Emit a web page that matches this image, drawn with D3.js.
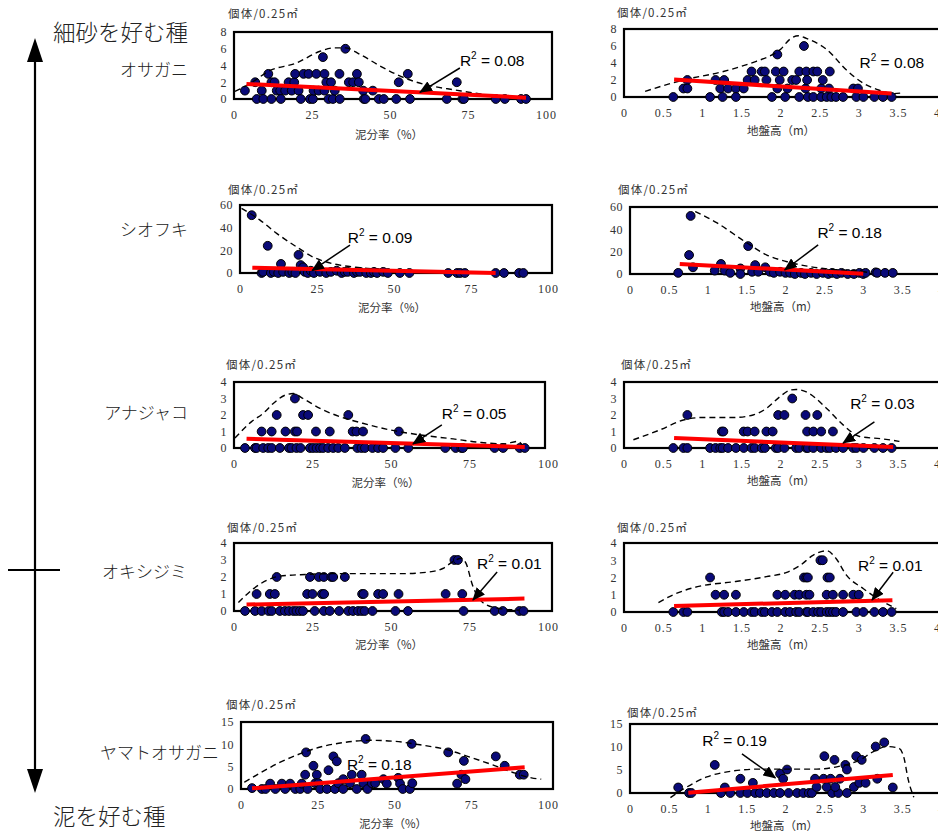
<!DOCTYPE html>
<html><head><meta charset="utf-8">
<script src="https://cdn.jsdelivr.net/npm/d3@7"></script>
<style>body{margin:0;background:#fff;} svg{display:block}</style>
</head><body>
<svg id="chart" width="938" height="834"></svg>
<script>
// ---------------- DATA ----------------
const species = ["オサガニ","シオフキ","アナジャコ","オキシジミ","ヤマトオサガニ"];
const r2Mud  = ["0.08","0.09","0.05","0.01","0.18"];
const r2Elev = ["0.08","0.18","0.03","0.01","0.19"];
const mudTicks = [0,25,50,75,100];
const elevTicks = [0,0.5,1,1.5,2,2.5,3,3.5,4];
const yTicksList = [[0,2,4,6,8],[0,20,40,60],[0,1,2,3,4],[0,1,2,3,4],[0,5,10,15]];

// オサガニ
const osaganiMud = [[3.5,1],[6.8,2],[7.3,0],[8.9,1],[9.4,0],[11,3],[12,0],[12,2],[13,2],[13.7,1],[14.8,1],[15,0],[16.4,1],[17.5,2],[18.5,1],[19.3,2],[19.6,3],[20.7,1],[21.4,0],[22.3,3],[23.9,3],[24.4,0],[25.3,0],[25.5,1],[26.4,3],[27.1,1],[28.5,5],[29,3],[29,1],[29.6,2],[30.3,0],[31.1,2],[31.7,0],[32.3,1],[33.8,3],[33.9,0],[35.7,6],[36.8,2],[38.2,2],[39.4,3],[40,2],[41.4,1],[41.6,0],[42.1,0],[44.5,1],[46.4,0],[48,0],[52,0],[52.8,2],[55.7,3],[56.4,0],[68.2,0],[71.4,2],[73.2,0],[73.7,0],[83.9,0],[86.8,0],[92,0],[93.6,0]];
const osaganiElev = [[0.63,0],[0.76,1],[0.81,2],[0.81,1],[1.1,0],[1.17,2],[1.23,1],[1.26,0],[1.28,2],[1.33,1],[1.43,1],[1.43,0],[1.53,1],[1.58,2],[1.63,3],[1.67,2],[1.76,3],[1.8,3],[1.82,2],[1.89,0],[1.94,3],[1.96,5],[1.96,1],[1.99,2],[2.04,3],[2.06,0],[2.09,1],[2.15,2],[2.2,2],[2.24,3],[2.24,0],[2.3,6],[2.32,1],[2.33,3],[2.34,2],[2.35,0],[2.42,3],[2.42,0],[2.47,3],[2.52,1],[2.54,2],[2.52,0],[2.59,0],[2.62,1],[2.63,3],[2.65,0],[2.71,0],[2.8,0],[2.93,1],[2.99,1],[2.97,0],[3.06,0],[3.2,0],[3.31,0],[3.42,0]];
const osaganiMudEnv = [[0.3,0.9],[6.2,2.1],[11,3.3],[20,4.3],[27.6,5.7],[32,6.1],[35.7,6.1],[40.5,5.3],[47,3.9],[52.3,2.9],[57.7,2.1],[64,1.5],[70.5,1.1],[79,0.6],[86.6,0.3],[93.6,0.15]];
const osaganiElevEnv = [[0.27,0.67],[0.76,2.0],[1.27,3.0],[1.69,4.2],[1.86,4.8],[2.0,5.6],[2.12,6.8],[2.23,7.2],[2.33,6.9],[2.59,5.6],[2.84,3.2],[3.06,1.6],[3.23,0.9],[3.44,0.4],[3.57,0.5]];
const osaganiMudFit = [[4,1.8],[93.6,0.16]];
const osaganiElevFit = [[0.64,2.05],[3.42,0.4]];

// シオフキ
const shiofukiMud = [[3.8,51],[7,0],[7.5,1],[9,24],[10,0],[11,1],[12.4,0],[13.3,8],[14,1],[16,0],[17,1],[18,0],[19,16],[19.7,7],[20.5,5],[21,1],[22,0],[23,2],[24,0],[26,1],[28,0],[29.5,1],[31.4,2],[33,0],[34,1],[35,1],[37,0],[38,1],[39,1],[41,0],[42.5,0],[43.5,1],[44.5,0],[46.5,1],[48,0],[51.9,0],[55,0],[67.6,0],[70.5,0],[71.5,0],[73,0],[83,0],[85.7,0],[90.6,0],[92,0]];
const shiofukiElev = [[0.62,1],[0.76,17],[0.78,52],[0.81,6],[1.09,3],[1.17,9],[1.22,3],[1.29,1],[1.42,5],[1.42,0],[1.52,25],[1.57,2],[1.61,8],[1.65,2],[1.74,6],[1.8,2],[1.85,1],[1.93,2],[2.0,1],[2.06,1],[2.12,0],[2.2,1],[2.25,0],[2.33,1],[2.4,0],[2.48,1],[2.55,0],[2.6,1],[2.66,0],[2.72,1],[2.8,0],[2.88,0],[2.95,1],[3.0,0],[3.03,1],[3.16,1.5],[3.18,1],[3.28,1],[3.38,1]];
const shiofukiMudEnv = [[0.5,57],[6.5,46.7],[11.9,35],[18.4,23],[23.8,14],[30,8.3],[39,4.7],[47.6,3],[58,1.2],[69,0.3],[75.7,0]];
const shiofukiElevEnv = [[0.84,56],[1.12,45.7],[1.5,28],[1.76,17],[2.02,11],[2.28,7],[2.62,4],[2.96,2.4],[3.05,1.5]];
const shiofukiMudFit = [[4,4.7],[83,0]];
const shiofukiElevFit = [[0.64,9],[3.0,0.3]];

// アナジャコ
const anajakoMud = [[3.5,0],[6.7,0],[7.2,0],[9.3,0],[10.9,0],[12,0],[14.6,0],[17.5,0],[18.3,0],[19.9,0],[21.2,0],[24.2,0],[25.2,0],[26.3,0],[27.4,0],[28.4,0],[30,0],[31.6,0],[33.2,0],[35.3,0],[39.3,0],[40.6,0],[41.7,0],[44.1,0],[45.9,0],[47.5,0],[51.4,0],[55.5,0],[67.3,0],[70.6,0],[72.4,0],[72.9,0],[83,0],[85.7,0],[91,0],[92.6,0],
  [8.8,1],[12,1],[16.4,1],[19.4,1],[20.1,1],[26.1,1],[30.5,1],[37.8,1],[39,1],[41.1,1],[52.5,1],
  [13.6,2],[22,2],[23.6,2],[36.4,2],[19.4,3]];
const anajakoElev = [[0.63,0],[0.76,0],[0.81,0],[1.1,0],[1.17,0],[1.23,0],[1.26,0],[1.33,0],[1.43,0],[1.53,0],[1.63,0],[1.67,0],[1.76,0],[1.8,0],[1.94,0],[1.97,0],[2.05,0],[2.2,0],[2.24,0],[2.33,0],[2.35,0],[2.42,0],[2.52,0],[2.59,0],[2.63,0],[2.71,0],[2.8,0],[2.93,0],[2.97,0],[3.06,0],[3.2,0],[3.31,0],[3.42,0],
  [1.25,1],[1.27,1],[1.53,1],[1.58,1],[1.67,1],[1.82,1],[1.9,1],[2.34,1],[2.42,1],[2.52,1],[2.67,1],
  [0.81,2],[1.97,2],[2.05,2],[2.32,2],[2.47,2],[2.15,3]];
const anajakoMudEnv = [[0.3,0.6],[5.6,1.6],[9.3,2.1],[12.5,2.7],[16.2,3.2],[18.9,3.3],[22,3],[27.4,2.4],[33.7,1.9],[41,1.5],[49.6,1.1],[59,0.8],[69.8,0.55],[78,0.35],[85.7,0.25],[90.5,0.4],[92,0.1]];
const anajakoElevEnv = [[0.12,0.5],[0.46,1.1],[0.76,1.7],[1.01,1.85],[1.4,1.85],[1.65,2.0],[1.82,2.4],[1.99,3.1],[2.12,3.5],[2.2,3.55],[2.33,3.4],[2.59,2.4],[2.8,1.4],[3.01,0.7],[3.31,0.55],[3.52,0.4]];
const anajakoMudFit = [[4,0.56],[92.6,0.06]];
const anajakoElevFit = [[0.64,0.6],[3.44,0.06]];

// オキシジミ
const okishijimiMud = [[3.5,0],[6.7,0],[8.8,0],[11,0],[12,0],[14.6,0],[16.2,0],[17.5,0],[18.9,0],[19.9,0],[21,0],[22,0],[25.7,0],[28.6,0],[30.5,0],[33.5,0],[36.4,0],[37.9,0],[39.5,0],[40.6,0],[41.6,0],[44.1,0],[51.4,0],[55.4,0],[73.1,0],[83,0],[85.6,0],[90.9,0],[92.2,0],
  [7.2,1],[11.4,1],[13,1],[23.3,1],[25,1],[28,1],[28.7,1],[40.8,1],[41.3,1],[45.9,1],[47.5,1],[52.4,1],[67.4,1],[72.7,1],
  [13.6,2],[24.2,2],[27,2],[28.6,2],[31,2],[31.6,2],[35.3,2],[70.2,3],[71.3,3]];
const okishijimiElev = [[0.63,0],[0.76,0],[0.81,0],[1.25,0],[1.28,0],[1.33,0],[1.43,0],[1.53,0],[1.63,0],[1.67,0],[1.76,0],[1.8,0],[1.89,0],[1.96,0],[2.06,0],[2.12,0],[2.2,0],[2.24,0],[2.33,0],[2.35,0],[2.42,0],[2.48,0],[2.52,0],[2.59,0],[2.63,0],[2.67,0],[2.71,0],[2.8,0],[2.97,0],[3.06,0],[3.2,0],[3.31,0],[3.42,0],
  [1.17,1],[1.28,1],[1.43,1],[1.96,1],[2.06,1],[2.18,1],[2.24,1],[2.33,1],[2.37,1],[2.59,1],[2.67,1],[2.8,1],[2.93,1],[3.0,1],
  [1.1,2],[2.3,2],[2.33,2],[2.35,2],[2.6,2],[2.63,2],[2.51,3],[2.54,3]];
const okishijimiMudEnv = [[1.4,0.5],[6.1,1.3],[10.4,1.8],[14.6,2.05],[23,2.15],[32.6,2.2],[43.2,2.2],[53.8,2.2],[62.3,2.3],[66.5,2.5],[69.7,2.9],[72.4,3.1],[73.9,2.8],[76,1.5],[79.2,0.5],[84.5,0.15],[90.9,0.05]];
const okishijimiElevEnv = [[0.44,0.55],[0.63,1.0],[0.97,1.5],[1.4,1.75],[1.82,2.05],[2.08,2.3],[2.25,2.7],[2.42,3.3],[2.59,3.55],[2.71,3.1],[2.84,2.15],[3.06,1.35],[3.27,0.7],[3.48,0.2]];
const okishijimiMudFit = [[4,0.38],[92.5,0.73]];
const okishijimiElevFit = [[0.64,0.35],[3.43,0.68]];

// ヤマトオサガニ
const yamatoMud = [[3.6,0.2],[6.8,0],[8,0],[9.5,1.2],[11.2,0],[13.3,1.2],[14.4,0],[16,1.2],[17.7,0],[19.3,0],[19.8,1.2],[20.9,3.2],[21.2,8.2],[21.7,0],[23.6,5.2],[24.7,3.2],[24.2,1.3],[25.2,1.3],[25.8,0],[28,0],[28.5,4.2],[30.1,7.3],[30.6,0],[31.2,6.2],[31.7,1.3],[33.3,2.2],[33.3,0],[35.5,1.3],[36.1,3.2],[37.7,0],[39.3,3.2],[39.9,1.3],[40.6,11.2],[41.2,0],[42.6,1.3],[43.7,1.3],[46.4,2.2],[47.5,1.2],[51.2,2.5],[51.8,1.2],[52.7,0],[55,0],[55.6,10.1],[55.8,1.3],[67.5,8.2],[70.4,1.2],[71.8,3.2],[72.6,6.3],[73.1,2.2],[83,7.3],[85.9,5.2],[90.8,3.2],[92.1,3.2]];
const yamatoElev = [[0.76,0],[0.79,0],[1.17,0],[1.29,0],[1.42,0],[1.51,0],[1.61,0],[1.67,0],[1.76,0],[1.85,0],[1.93,0],[2.04,0],[2.15,0],[2.23,0],[2.3,0],[2.34,0],[2.6,0],[2.68,0],[2.79,0],
  [0.62,1.2],[1.09,6.1],[1.22,1.2],[1.42,3.1],[1.58,2.2],[1.93,4.2],[1.97,3.1],[2.02,5.1],[2.38,3.1],[2.4,1.3],[2.49,3.1],[2.5,8],[2.53,1.3],[2.58,3.1],[2.63,7.2],[2.64,1.3],[2.7,3.1],[2.77,6.1],[2.79,5.1],[2.88,1.3],[2.91,8],[2.98,7.2],[2.95,2.2],[3.03,2.2],[3.16,10.1],[3.18,3.1],[3.27,11],[3.38,1.2]];
const yamatoMudEnv = [[1.1,1.5],[6.3,3.6],[12.8,6],[19.3,7.9],[25.8,9.4],[33.4,10.4],[42,10.9],[49.6,10.7],[58.3,9.9],[67,8.8],[75.6,6.9],[82,5.4],[88.6,3.7],[94.6,2.5],[97.8,2.2]];
const yamatoElevEnv = [[0.52,-1],[0.73,1.3],[0.99,3.5],[1.33,4.8],[1.67,5.2],[2.02,5.2],[2.4,5.2],[2.7,5.85],[2.96,7.2],[3.13,9],[3.31,10.1],[3.46,9.7],[3.52,7.9],[3.58,2.8],[3.65,-0.9]];
const yamatoMudFit = [[3.6,0.15],[92.4,4.85]];
const yamatoElevFit = [[0.75,0.07],[3.38,3.9]];

// ---------------- LAYOUT ----------------
const mudSeries  = [osaganiMud, shiofukiMud, anajakoMud, okishijimiMud, yamatoMud];
const elevSeries = [osaganiElev, shiofukiElev, anajakoElev, okishijimiElev, yamatoElev];
const mudEnvs  = [osaganiMudEnv, shiofukiMudEnv, anajakoMudEnv, okishijimiMudEnv, yamatoMudEnv];
const elevEnvs = [osaganiElevEnv, shiofukiElevEnv, anajakoElevEnv, okishijimiElevEnv, yamatoElevEnv];
const mudFits  = [osaganiMudFit, shiofukiMudFit, anajakoMudFit, okishijimiMudFit, yamatoMudFit];
const elevFits = [osaganiElevFit, shiofukiElevFit, anajakoElevFit, okishijimiElevFit, yamatoElevFit];

const leftLayout = [
  {xr:[234,546], yr:[99,32],  fr:552, yt:[228,14],  xty:135, r2:[72.4,3.9], ar:[[72.4,3.7],[59.6,0.8]]},
  {xr:[240,548], yr:[273,205],fr:552, yt:[228,190], xty:308, r2:[35,26.5], ar:[[35.7,24.7],[23.4,2]]},
  {xr:[234,548], yr:[448,382],fr:545, yt:[226,365], xty:483, r2:[66.2,1.76], ar:[[66.2,1.4],[57,0.25]]},
  {xr:[234,548], yr:[611,543],fr:552, yt:[227,528], xty:645, r2:[77.4,2.47], ar:[[83.8,2.3],[76.1,0.65]]},
  {xr:[241,548], yr:[789,722],fr:553, yt:[226,705], xty:824, r2:[34.5,4.25], ar:null}
];
const rightLayout = [
  {xr:[624,937], yr:[97,29],  fr:946, yt:[617,13],  xty:131, r2:[3.01,3.4], ar:null},
  {xr:[630,941], yr:[274,207],fr:946, yt:[618,190], xty:307, r2:[2.41,32], ar:[[2.42,26],[1.99,3.6]]},
  {xr:[624,937], yr:[448,382],fr:946, yt:[621,365], xty:481, r2:[2.89,2.36], ar:[[3.2,1.58],[2.8,0.3]]},
  {xr:[624,937], yr:[612,543],fr:946, yt:[617,528], xty:645, r2:[2.99,2.38], ar:[[3.44,2.3],[3.17,0.7]]},
  {xr:[630,941], yr:[793,724],fr:946, yt:[627,713], xty:826, r2:[0.93,10.2], ar:[[1.44,8.5],[1.87,3.3]]}
];

const svg = d3.select('#chart');
const serif = '"Liberation Serif","DejaVu Serif",serif';
const cjk = '"Noto Sans CJK JP","Noto Sans CJK SC",sans-serif';
const sans = '"Liberation Sans",Arial,sans-serif';

svg.append('defs').append('marker')
  .attr('id','ah').attr('markerUnits','userSpaceOnUse')
  .attr('markerWidth',13).attr('markerHeight',11)
  .attr('refX',12).attr('refY',5.5).attr('orient','auto')
  .append('path').attr('d','M0,0 L13,5.5 L0,11 Z').attr('fill','#000');

function drawPanel(data, env, fit, r2, yMax, yTicks, xDom, xTicks, L, xTitle) {
  const x = d3.scaleLinear().domain(xDom).range(L.xr);
  const y = d3.scaleLinear().domain([0, yMax]).range(L.yr);
  const g = svg.append('g');

  const ya = d3.axisLeft(y).tickValues(yTicks).tickSize(0).tickPadding(7).tickFormat(d=>String(d));
  const yg = g.append('g').attr('transform',`translate(${x(0)},0)`).call(ya);
  yg.select('.domain').remove();
  yg.selectAll('text').attr('font-family',serif).attr('font-size',12).attr('fill','#333').attr('letter-spacing',0.5);

  const xa = d3.axisBottom(x).tickValues(xTicks).tickSize(0).tickPadding(11).tickFormat(d=>String(d));
  const xg = g.append('g').attr('transform',`translate(0,${y(0)})`).call(xa);
  xg.select('.domain').remove();
  xg.selectAll('text').attr('font-family',serif).attr('font-size',12).attr('fill','#333').attr('letter-spacing',1);

  g.append('rect').attr('x',x(0)).attr('y',y(yMax))
    .attr('width',L.fr - x(0)).attr('height',y(0)-y(yMax))
    .attr('fill','none').attr('stroke','#000').attr('stroke-width',2.2);

  g.append('text').attr('x',L.yt[0]).attr('y',L.yt[1]).attr('dy','0.35em')
    .attr('font-family',cjk).attr('font-size',11.5).attr('fill','#333').attr('letter-spacing',1.2)
    .text('個体/0.25㎡');
  g.append('text').attr('x',(L.xr[0]+L.fr)/2 - 4).attr('y',L.xty).attr('dy','0.35em')
    .attr('text-anchor','middle').attr('font-family',cjk).attr('font-size',11.5).attr('fill','#333')
    .text(xTitle);

  g.selectAll('circle.pt').data(data).join('circle').attr('class','pt')
    .attr('cx',d=>x(d[0])).attr('cy',d=>y(d[1])).attr('r',4.4)
    .attr('fill','#0a0a78').attr('stroke','#000').attr('stroke-width',1);

  g.append('path').datum(env)
    .attr('d', d3.line().x(d=>x(d[0])).y(d=>y(d[1])).curve(d3.curveMonotoneX))
    .attr('fill','none').attr('stroke','#000').attr('stroke-width',1.4).attr('stroke-dasharray','6,4');

  g.append('path').datum(fit)
    .attr('d', d3.line().x(d=>x(d[0])).y(d=>y(d[1])))
    .attr('fill','none').attr('stroke','#ff0000').attr('stroke-width',4);

  if (L.ar) {
    g.append('line').attr('x1',x(L.ar[0][0])).attr('y1',y(L.ar[0][1]))
      .attr('x2',x(L.ar[1][0])).attr('y2',y(L.ar[1][1]))
      .attr('stroke','#000').attr('stroke-width',1.5).attr('marker-end','url(#ah)');
  }
  const t = g.append('text').attr('x',x(L.r2[0])).attr('y',y(L.r2[1]))
    .attr('font-family',sans).attr('font-size',15.5).attr('fill','#000');
  t.append('tspan').text('R');
  t.append('tspan').attr('font-size',10).attr('dy',-7).text('2');
  t.append('tspan').attr('dy',7).text(' = ' + r2);
}

for (let i = 0; i < 5; i++) {
  const yMax = d3.max(yTicksList[i]);
  drawPanel(mudSeries[i], mudEnvs[i], mudFits[i], r2Mud[i], yMax, yTicksList[i], [0,100], mudTicks, leftLayout[i], '泥分率（%）');
  drawPanel(elevSeries[i], elevEnvs[i], elevFits[i], r2Elev[i], yMax, yTicksList[i], [0,4], elevTicks, rightLayout[i], '地盤高（m）');
}

// ---------------- LEFT GRADIENT ARROW ----------------
const side = svg.append('g');
side.append('line').attr('x1',35).attr('x2',35).attr('y1',58).attr('y2',772).attr('stroke','#000').attr('stroke-width',2.2);
side.append('path').attr('d','M35,38 L43,62 L27,62 Z').attr('fill','#000');
side.append('path').attr('d','M35,793 L43,769 L27,769 Z').attr('fill','#000');
side.append('line').attr('x1',8).attr('x2',60).attr('y1',570).attr('y2',570).attr('stroke','#000').attr('stroke-width',2.2);

side.append('text').attr('x',53).attr('y',33).attr('dy','0.35em').attr('font-family',cjk).attr('font-size',22.5).attr('font-weight',300).attr('fill','#222').text('細砂を好む種');
side.append('text').attr('x',53).attr('y',817).attr('dy','0.35em').attr('font-family',cjk).attr('font-size',22.5).attr('font-weight',300).attr('fill','#222').text('泥を好む種');

const labelPos = [[188,70],[188,230],[188,413],[187,572],[219,753]];
species.forEach((s,i)=>{
  side.append('text').attr('x',labelPos[i][0]).attr('y',labelPos[i][1]).attr('dy','0.35em')
    .attr('text-anchor','end').attr('font-family',cjk).attr('font-size',17).attr('font-weight',300).attr('fill','#222').text(s);
});
</script>
</body></html>
